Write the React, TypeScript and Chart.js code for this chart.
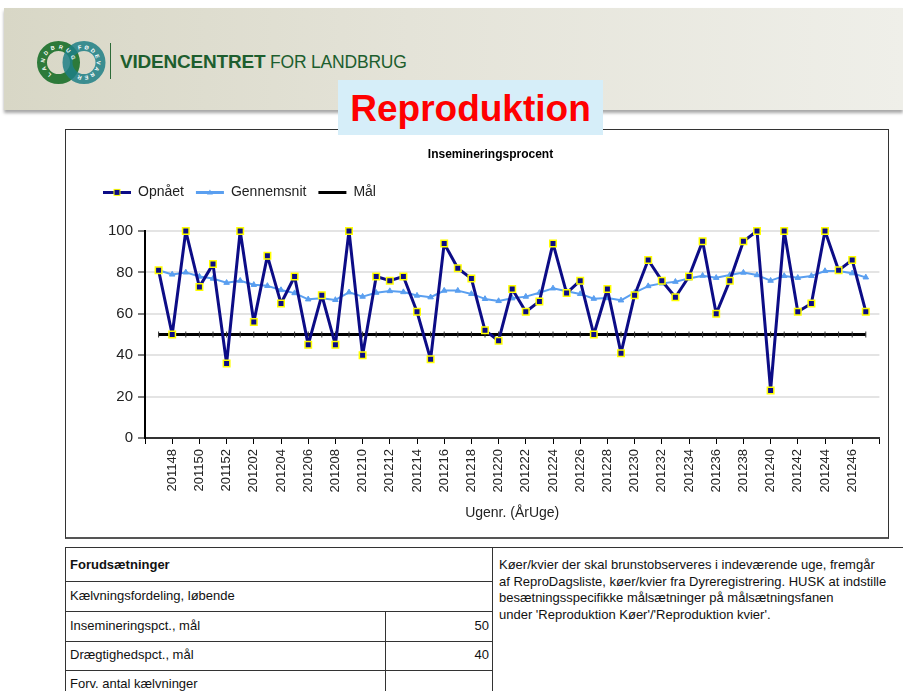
import React, { useEffect, useRef } from 'react';
import { Chart, registerables } from 'chart.js';

Chart.register(...registerables);

// ---- Data ----
const weeks: string[] = [
  '201147', '201148', '201149', '201150', '201151', '201152',
  '201201', '201202', '201203', '201204', '201205', '201206', '201207', '201208', '201209', '201210',
  '201211', '201212', '201213', '201214', '201215', '201216', '201217', '201218', '201219', '201220',
  '201221', '201222', '201223', '201224', '201225', '201226', '201227', '201228', '201229', '201230',
  '201231', '201232', '201233', '201234', '201235', '201236', '201237', '201238', '201239', '201240',
  '201241', '201242', '201243', '201244', '201245', '201246', '201247',
];

const opnaet: number[] = [
  81, 50, 100, 73, 84, 36, 100, 56, 88, 65,
  78, 45, 69, 45, 100, 40, 78, 76, 78, 61,
  38, 94, 82, 77, 52, 47, 72, 61, 66, 94,
  70, 76, 50, 72, 41, 69, 86, 76, 68, 78,
  95, 60, 76, 95, 100, 23, 100, 61, 65, 100,
  81, 86, 61,
];

const gennemsnit: number[] = [
  81, 79, 80, 78, 77, 75, 76, 74, 73.5, 71.5,
  70, 67, 67.5, 66.7, 70.4, 68.3, 70.2, 71, 70.5, 68.8,
  68, 71.2, 71.2, 69.6, 67.2, 66.2, 67.5, 68.3, 70.2, 72.3,
  70.9, 69.6, 67.3, 67.6, 66.5, 70.2, 73.4, 74.7, 75.5, 77.1,
  78.4, 77.4, 78.7, 79.9, 78.7, 76, 78.3, 77.4, 78.3, 80.7,
  80.7, 79.6, 77.6,
];

const maal: number[] = [
  50, 50, 50, 50, 50, 50, 50, 50, 50, 50,
  50, 50, 50, 50, 50, 50, 50, 50, 50, 50,
  50, 50, 50, 50, 50, 50, 50, 50, 50, 50,
  50, 50, 50, 50, 50, 50, 50, 50, 50, 50,
  50, 50, 50, 50, 50, 50, 50, 50, 50, 50,
  50, 50, 50,
];

const seriesNames = ['Opnået', 'Gennemsnit', 'Mål'];
const yTicks = [0, 20, 40, 60, 80, 100];

const chartTitle = 'Insemineringsprocent';
const xTitle = 'Ugenr. (ÅrUge)';

const FONT = "'Liberation Sans', Arial, Helvetica, sans-serif";

const NAVY = '#0c0c86';
const LIGHTBLUE = '#5a9ff0';

// x position: category index shifted by one slot so the axis has one empty slot on each side
const toPoints = (vals: number[]) => vals.map((v, i) => ({ x: i + 1, y: v }));

const legendMarkers = {
  id: 'legendMarkers',
  afterDraw(chart: any) {
    const lg = chart.legend;
    if (!lg || !lg.legendHitBoxes) return;
    const ctx = chart.ctx;
    ctx.save();
    lg.legendHitBoxes.forEach((hb: any, i: number) => {
      const cx = hb.left + 14;
      const cy = hb.top + 7;
      if (i === 0) {
        ctx.fillStyle = '#ffff00';
        ctx.fillRect(cx - 3.5, cy - 3.5, 7, 7);
        ctx.fillStyle = NAVY;
        ctx.fillRect(cx - 2.5, cy - 2.5, 5, 5);
      } else if (i === 1) {
        ctx.fillStyle = LIGHTBLUE;
        ctx.beginPath();
        ctx.moveTo(cx, cy - 3);
        ctx.lineTo(cx + 3, cy + 2);
        ctx.lineTo(cx - 3, cy + 2);
        ctx.closePath();
        ctx.fill();
      }
    });
    ctx.restore();
  },
};

export default function App() {
  const ref = useRef<HTMLCanvasElement>(null);

  useEffect(() => {
    if (!ref.current) return;
    Chart.defaults.font.family = FONT;
    const chart = new Chart(ref.current, {
      type: 'line',
      data: {
        datasets: [
          {
            label: seriesNames[0],
            data: toPoints(opnaet),
            borderColor: NAVY,
            backgroundColor: NAVY,
            borderWidth: 3,
            borderJoinStyle: 'round',
            pointStyle: 'rect',
            pointRadius: 4.6,
            pointBackgroundColor: NAVY,
            pointBorderColor: '#ffff00',
            pointBorderWidth: 1.5,
            tension: 0,
            clip: false,
          },
          {
            label: seriesNames[1],
            data: toPoints(gennemsnit),
            borderColor: LIGHTBLUE,
            backgroundColor: LIGHTBLUE,
            borderWidth: 2,
            borderJoinStyle: 'round',
            pointStyle: 'triangle',
            pointRadius: 3.2,
            pointBackgroundColor: LIGHTBLUE,
            pointBorderColor: LIGHTBLUE,
            pointBorderWidth: 1,
            tension: 0,
            clip: false,
          },
          {
            label: seriesNames[2],
            data: toPoints(maal),
            borderColor: '#000000',
            backgroundColor: '#000000',
            borderWidth: 3,
            pointStyle: 'line',
            pointRotation: 90,
            pointRadius: 3,
            pointBorderColor: '#333333',
            pointBorderWidth: 1,
            tension: 0,
            clip: false,
          },
        ],
      },
      options: {
        responsive: false,
        animation: false,
        events: [],
        layout: { padding: { left: 25, right: 10, top: 0, bottom: 0 } },
        plugins: {
          title: {
            display: true,
            text: chartTitle,
            color: '#000',
            font: { size: 12, weight: 'bold' },
            padding: { top: 17, bottom: 12 },
          },
          subtitle: {
            display: true,
            text: ' ',
            weight: 500,
            font: { size: 10 },
            padding: { top: 4, bottom: 5.6 },
          } as any,
          legend: {
            display: true,
            position: 'top',
            align: 'start',
            labels: {
              boxWidth: 28,
              boxHeight: 3,
              padding: 12,
              color: '#222',
              font: { size: 14 },
              generateLabels: (c: any) => {
                const items = Chart.defaults.plugins.legend.labels.generateLabels(c);
                return items.map((it: any) => ({ ...it, fillStyle: it.strokeStyle, lineWidth: 0 }));
              },
            },
          },
          tooltip: { enabled: false },
        },
        scales: {
          x: {
            type: 'linear',
            min: 0,
            max: weeks.length + 1,
            afterBuildTicks: (scale: any) => {
              const t: { value: number }[] = [];
              for (let v = 0; v <= weeks.length + 1; v += 2) t.push({ value: v });
              scale.ticks = t;
            },
            afterFit: (scale: any) => {
              scale.height = 98;
            },
            ticks: {
              autoSkip: false,
              minRotation: 90,
              maxRotation: 90,
              padding: 5,
              color: '#222',
              font: { size: 13 },
              callback: (value: any) => {
                const i = Number(value) - 1;
                return i >= 0 && i < weeks.length ? weeks[i] : '';
              },
            },
            grid: {
              drawOnChartArea: false,
              drawTicks: true,
              tickLength: 6,
              tickColor: '#000',
              tickWidth: 1,
            },
            border: { color: '#333', width: 2 },
            title: {
              display: true,
              text: xTitle,
              color: '#222',
              font: { size: 14 },
              padding: { top: 0, bottom: 14 },
            },
          },
          y: {
            min: 0,
            max: 100,
            afterBuildTicks: (scale: any) => {
              scale.ticks = yTicks.map((v) => ({ value: v }));
            },
            afterFit: (scale: any) => {
              scale.width = 54;
            },
            ticks: {
              color: '#222',
              font: { size: 15 },
              padding: 5,
            },
            grid: {
              color: '#e4e4e4',
              lineWidth: 2,
              tickColor: '#000',
              tickLength: 7,
              tickWidth: 1,
            },
            border: { color: '#000', width: 2 },
          },
        },
      },
      plugins: [legendMarkers],
    } as any);
    return () => chart.destroy();
  }, []);

  const cell: React.CSSProperties = {
    position: 'absolute',
    fontSize: 13,
    color: '#111',
    whiteSpace: 'nowrap',
  };

  return (
    <div
      style={{
        position: 'absolute',
        left: 0,
        top: 0,
        width: 903,
        height: 691,
        overflow: 'hidden',
        background: '#fff',
        fontFamily: FONT,
      }}
    >
      {/* header band */}
      <div
        style={{
          position: 'absolute',
          left: 4,
          top: 8,
          width: 899,
          height: 102,
          background: 'linear-gradient(to right, #d8d7c6 0%, #e4e3d8 45%, #efefe9 100%)',
          boxShadow: '0 3px 3px rgba(0,0,0,0.35)',
        }}
      />
      {/* logo */}
      <svg style={{ position: 'absolute', left: 30, top: 36 }} width={80} height={54} viewBox="30 36 80 54">
        <defs>
          <path id="ringA" d="M 51.75 74.19 A 13.5 13.5 0 1 1 65.25 50.81 A 13.5 13.5 0 1 1 51.75 74.19" />
          <path id="ringB" d="M 78.38 49.81 A 13.5 13.5 0 1 1 87.62 75.19 A 13.5 13.5 0 1 1 78.38 49.81" />
        </defs>
        <circle cx={58.5} cy={62.5} r={16.5} fill="none" stroke="#2d7a3a" strokeWidth={10} />
        <circle cx={84} cy={62.5} r={16.5} fill="none" stroke="#1f7f86" strokeWidth={10} opacity={0.85} />
        <text fontSize={5.5} fill="#fff" fontWeight="bold" letterSpacing={3.2} fontFamily={FONT}>
          <textPath href="#ringA">LANDBRUG</textPath>
        </text>
        <text fontSize={5.5} fill="#fff" fontWeight="bold" letterSpacing={2.2} fontFamily={FONT}>
          <textPath href="#ringB">FØDEVARER</textPath>
        </text>
      </svg>
      <div style={{ position: 'absolute', left: 110, top: 43, width: 1, height: 36, background: '#2d6b38' }} />
      <div
        style={{
          position: 'absolute',
          left: 120,
          top: 50,
          fontSize: 19,
          lineHeight: '24px',
          color: '#1d5e2e',
          whiteSpace: 'nowrap',
        }}
      >
        <span style={{ fontWeight: 'bold', letterSpacing: -0.2 }}>VIDENCENTRET</span>
        <span style={{ fontSize: 17.5, letterSpacing: -0.2 }}> FOR LANDBRUG</span>
      </div>

      {/* chart frame */}
      <div
        style={{
          position: 'absolute',
          left: 65,
          top: 129,
          width: 822,
          height: 407,
          borderTop: '1px solid #333',
          borderLeft: '1px solid #333',
          borderRight: '1px solid #333',
          borderBottom: '2px solid #555',
        }}
      />
      <canvas
        ref={ref}
        width={834}
        height={406}
        style={{ position: 'absolute', left: 66, top: 130, width: 834, height: 406 }}
      />

      {/* title box */}
      <div
        style={{
          position: 'absolute',
          left: 338,
          top: 80,
          width: 265,
          height: 55,
          background: '#d6eef9',
          color: '#ff0000',
          fontWeight: 'bold',
          fontSize: 37,
          lineHeight: '57px',
          textAlign: 'center',
        }}
      >
        Reproduktion
      </div>

      {/* table */}
      <div style={{ position: 'absolute', left: 65, top: 547, width: 838, height: 1, background: '#333' }} />
      <div style={{ position: 'absolute', left: 65, top: 547, width: 1, height: 150, background: '#333' }} />
      <div style={{ position: 'absolute', left: 492, top: 547, width: 1, height: 150, background: '#333' }} />
      <div style={{ position: 'absolute', left: 385, top: 611, width: 1, height: 90, background: '#333' }} />
      <div style={{ position: 'absolute', left: 65, top: 581, width: 427, height: 1, background: '#333' }} />
      <div style={{ position: 'absolute', left: 65, top: 611, width: 427, height: 1, background: '#333' }} />
      <div style={{ position: 'absolute', left: 65, top: 641, width: 427, height: 1, background: '#333' }} />
      <div style={{ position: 'absolute', left: 65, top: 670, width: 427, height: 1, background: '#333' }} />

      <div style={{ ...cell, left: 70, top: 557, fontWeight: 'bold' }}>Forudsætninger</div>
      <div style={{ ...cell, left: 70, top: 588 }}>Kælvningsfordeling, løbende</div>
      <div style={{ ...cell, left: 70, top: 618 }}>Insemineringspct., mål</div>
      <div style={{ ...cell, left: 386, top: 618, width: 103, textAlign: 'right' }}>50</div>
      <div style={{ ...cell, left: 70, top: 647 }}>Drægtighedspct., mål</div>
      <div style={{ ...cell, left: 386, top: 647, width: 103, textAlign: 'right' }}>40</div>
      <div style={{ ...cell, left: 70, top: 676 }}>Forv. antal kælvninger</div>

      <div
        style={{
          position: 'absolute',
          left: 499,
          top: 557,
          width: 404,
          fontSize: 13,
          lineHeight: '16.7px',
          color: '#111',
          whiteSpace: 'nowrap',
        }}
      >
        <div>Køer/kvier der skal brunstobserveres i indeværende uge, fremgår</div>
        <div>af ReproDagsliste, køer/kvier fra Dyreregistrering. HUSK at indstille</div>
        <div>besætningsspecifikke målsætninger på målsætningsfanen</div>
        <div>under 'Reproduktion Køer'/'Reproduktion kvier'.</div>
      </div>
    </div>
  );
}
